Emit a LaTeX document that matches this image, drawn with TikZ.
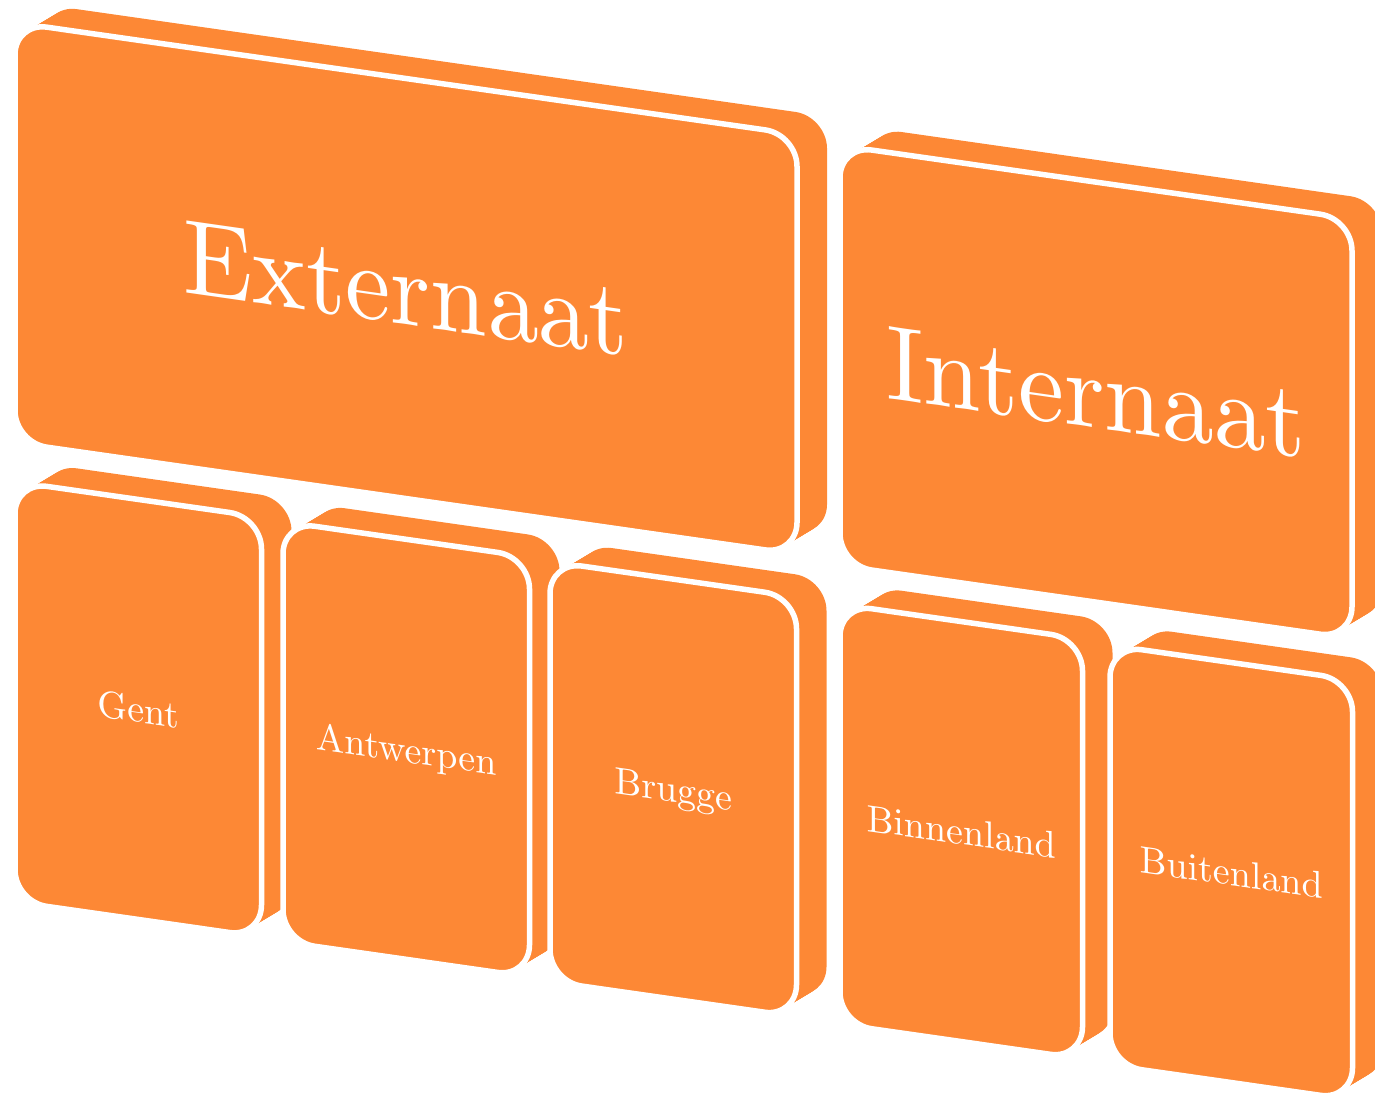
\documentclass[tikz,border=0pt]{standalone}
\definecolor{boxorange}{RGB}{253,136,53}
\font\bigcm=cmr10 at 53pt
\font\smallcm=cmr10 at 19pt
\tikzset{
  facepath/.style n args={4}{insert path={(#1,#2) -- ({#1+#3},{#2+0.143*#3}) -- ({#1+#3},{#2+0.143*#3+#4}) -- (#1,{#2+#4}) -- cycle}},
  depthfill/.style={fill=boxorange, draw=none, rounded corners=16pt},
  frontface/.style={fill=boxorange, draw=white, line width=2.75pt, rounded corners=16pt},
  boxlabel/.style={text=white, inner sep=0pt, anchor=base, yslant=-0.143},
  biglabel/.style={boxlabel, font=\bigcm},
  smalllabel/.style={boxlabel, font=\smallcm},
}
% #1 = left, #2 = top, #3 = width, #4 = height (pixels, y downward)
\newcommand\solidbox[4]{%
  \foreach \i in {0,...,20}{%
    \begin{scope}[shift={(1.5*\i,-0.9*\i)}]
      \fill[depthfill, facepath={#1}{#2}{#3}{#4}];
    \end{scope}
  }%
  \filldraw[frontface, facepath={#1}{#2}{#3}{#4}];
}
\begin{document}
\begin{tikzpicture}[x=0.5pt, y=-0.5pt]
  \useasboundingbox (0,0) rectangle (1375,1094);
  \clip (0,0) rectangle (1375,1094);
  % upper row
  \solidbox{15}{22.6}{782}{420}
  \solidbox{840}{145.5}{512}{420}
  % lower row
  \solidbox{15}{481.8}{246.5}{420}
  \solidbox{283}{521.7}{246.5}{420}
  \solidbox{550}{561.5}{246.5}{420}
  \solidbox{840}{604.2}{242.5}{420}
  \solidbox{1110}{645.2}{242.5}{420}
  % labels
  \node[biglabel, xscale=0.96] (ext) at (406, {22.6+0.143*391+210+36}) {Externaat};
  \node[biglabel, xscale=0.975] (int) at (1096, {145.5+0.143*256+210+36}) {Internaat};
  \node[smalllabel] (gent) at (138.25, {481.8+0.143*123.25+210+13}) {Gent};
  \node[smalllabel] (antw) at (406.25, {521.7+0.143*123.25+210+13}) {Antwerpen};
  \node[smalllabel] (brug) at (673.25, {561.5+0.143*123.25+210+13}) {Brugge};
  \node[smalllabel] (binn) at (961.25, {604.2+0.143*121.25+210+13}) {Binnenland};
  \node[smalllabel] (buit) at (1231.25, {645.2+0.143*121.25+210+13}) {Buitenland};
\end{tikzpicture}
\end{document}
